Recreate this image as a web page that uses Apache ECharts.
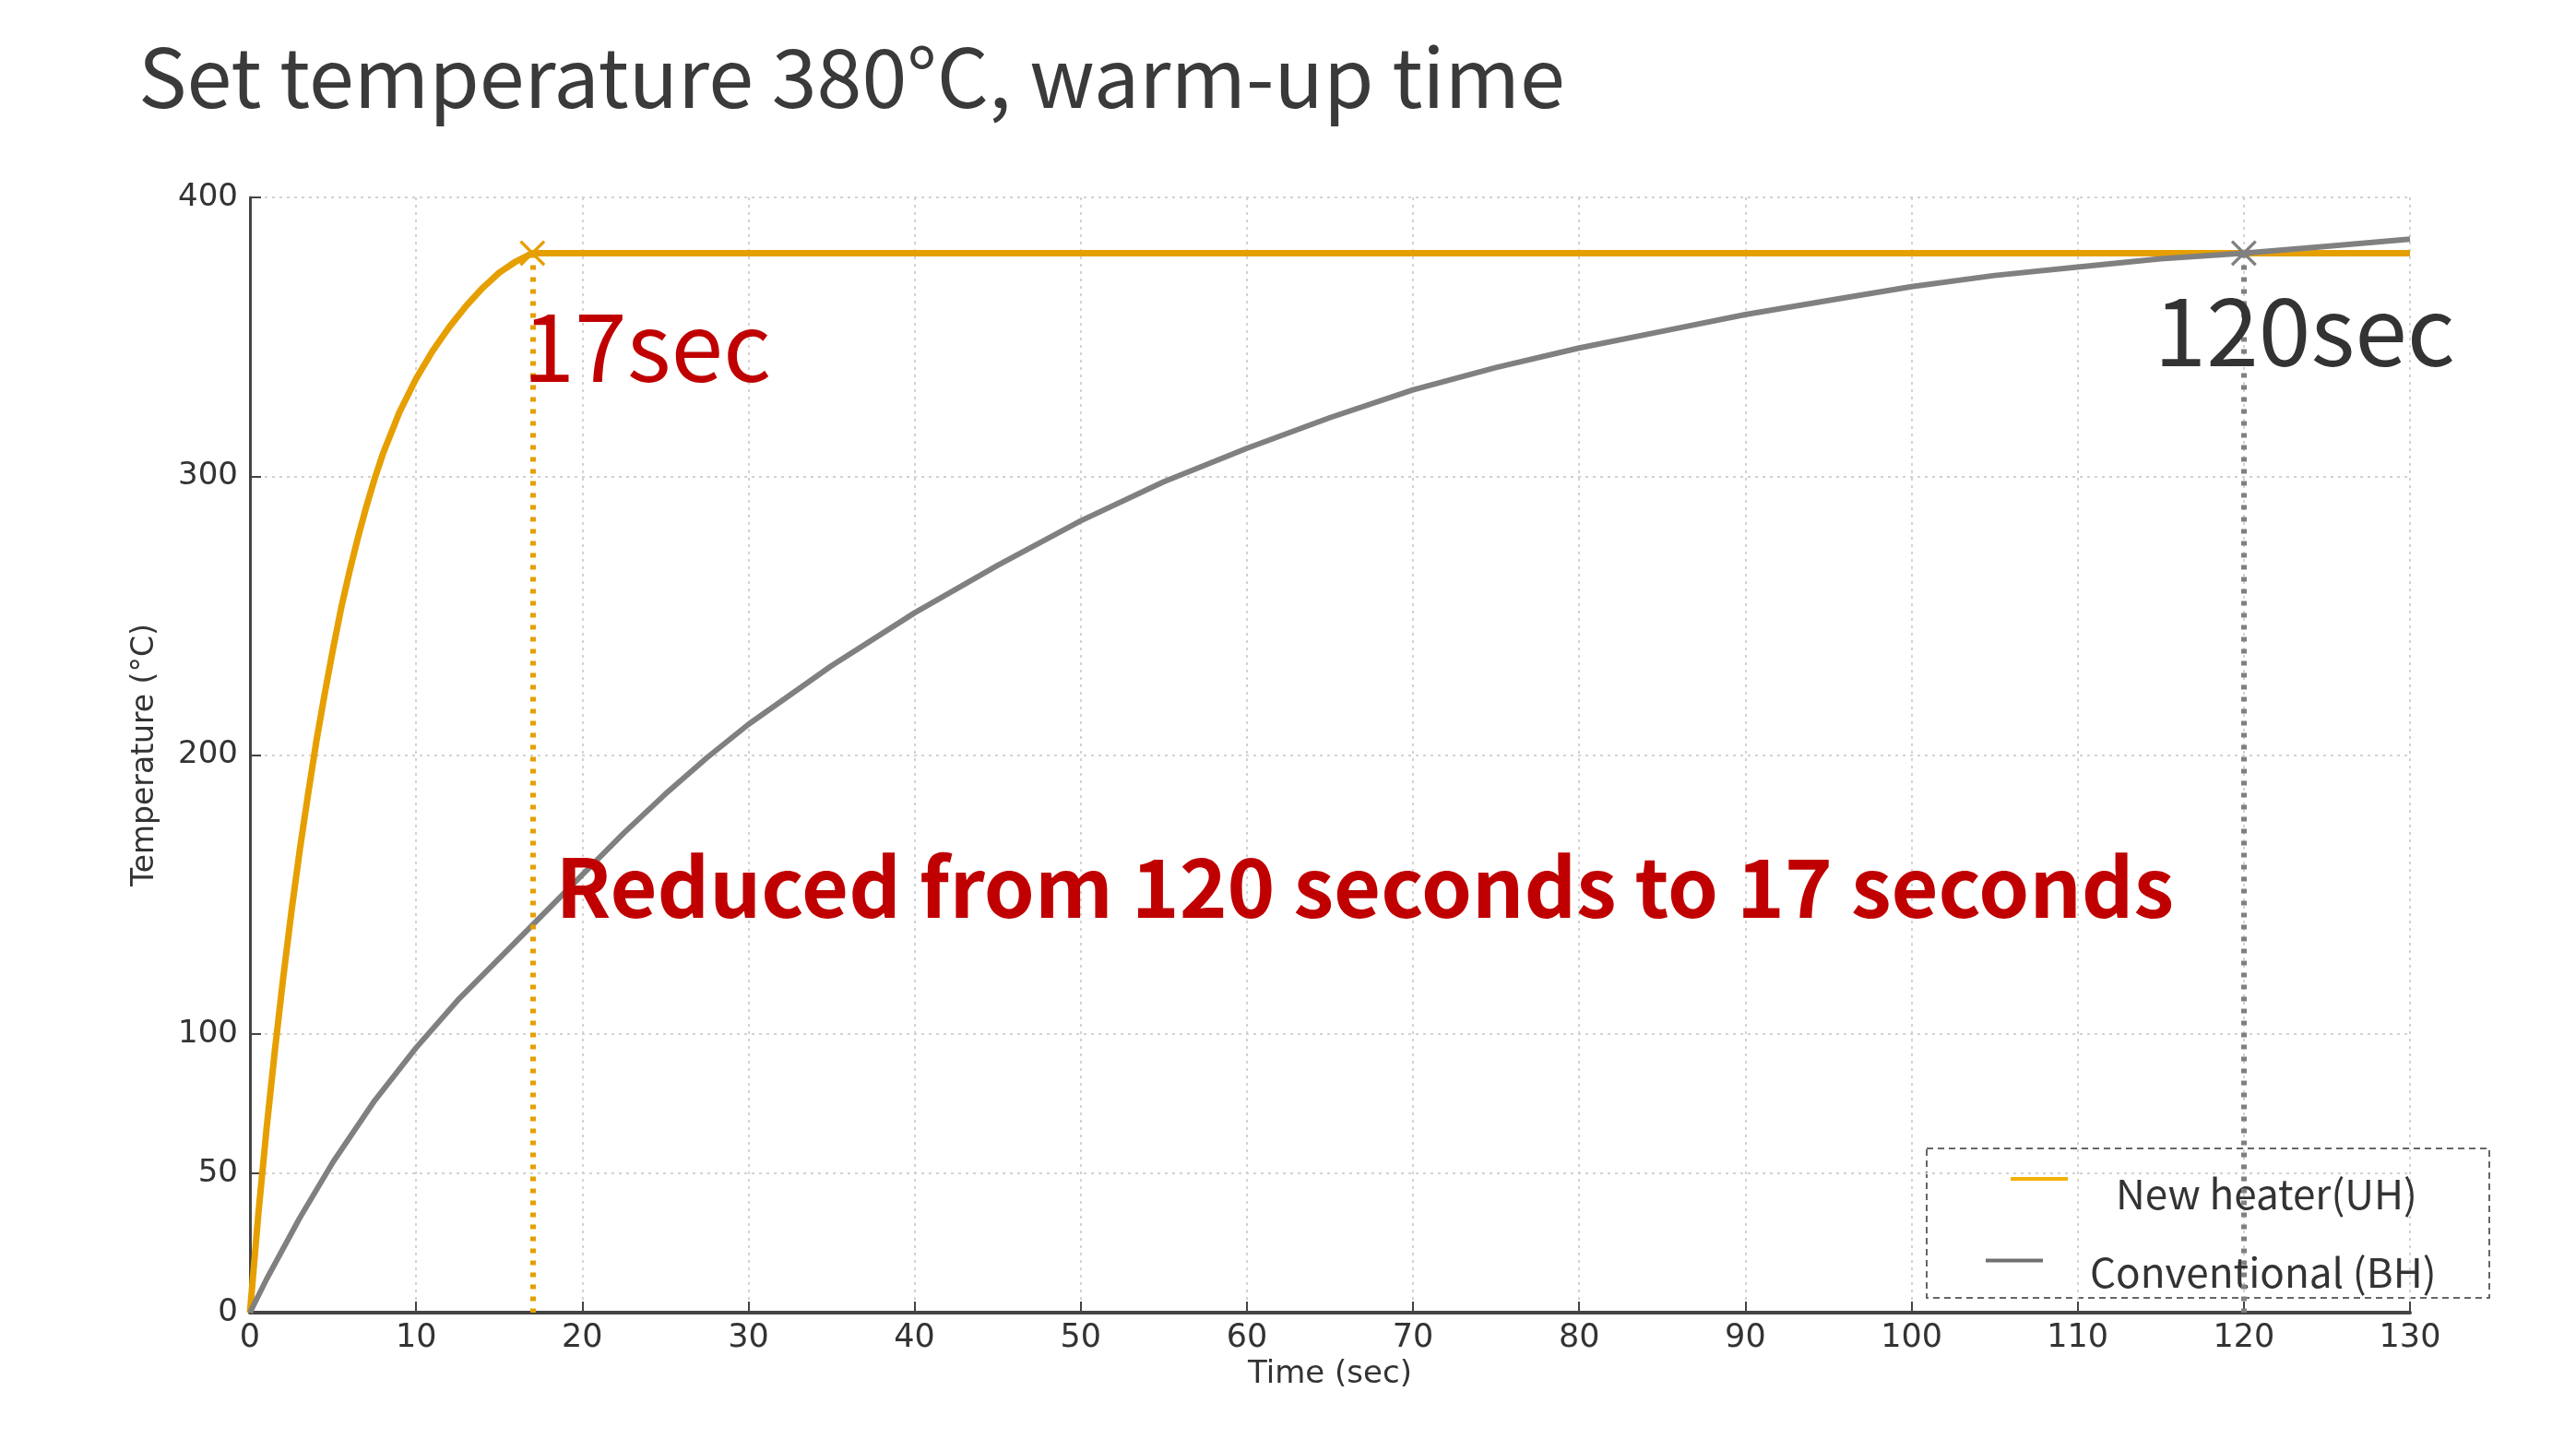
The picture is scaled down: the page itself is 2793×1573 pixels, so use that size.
<!DOCTYPE html>
<html>
<head>
<meta charset="utf-8">
<title>Warm-up time</title>
<script src="https://cdn.jsdelivr.net/npm/echarts@6/dist/echarts.min.js"></script>
<style>
  html, body { margin: 0; padding: 0; background: #fff; }
  #chart { width: 2793px; height: 1573px; }
</style>
</head>
<body>
<div id="chart"></div>
<script>
// values
var newName = 'New heater(UH)';
var oldName = 'Conventional (BH)';
var newTime = [0, 0.5, 1, 1.5, 2, 2.5, 3, 3.5, 4, 4.5, 5, 5.5, 6, 6.5, 7, 7.5, 8, 9, 10, 11, 12, 13, 14, 15, 16, 17, 130];
var newTemp = [0, 35, 66, 94, 120, 144, 166, 186, 205, 222, 238, 253, 266, 278, 289, 299, 308, 323, 335, 345, 353.5, 361, 367.5, 373, 377, 380, 380];
var oldTime = [0, 1, 2, 3, 4, 5, 7.5, 10, 12.5, 15, 17, 20, 22.5, 25, 27.5, 30, 35, 40, 45, 50, 55, 60, 65, 70, 75, 80, 85, 90, 95, 100, 105, 110, 115, 120, 125, 130];
var oldTemp = [0, 12, 23, 34, 44, 54, 76, 95, 112, 127, 139, 157, 172, 186, 199, 211, 232, 251, 268, 284, 298, 310, 321, 331, 339, 346, 352, 358, 363, 368, 372, 375, 378, 380, 382.5, 385];
var setTemp = 380;
var newReach = 17;
var oldReach = 120;
var yTicks = [0, 50, 100, 200, 300, 400];

var orange = '#E69F00';
var grey = '#808080';
var red = '#C00000';
var cjk = 'Noto Sans CJK JP';
var cross = 'path://M0,2 L2,0 L12,10 L22,0 L24,2 L14,12 L24,22 L22,24 L12,14 L2,24 L0,22 L10,12 Z';

function pairs(xs, ys) {
    return xs.map(function (x, i) { return [x, ys[i]]; });
}

// short bar at the top of a taller invisible box, so the bar sits above the text centre
function barIcon(h) {
    return 'path://M0,0 L62,0 L62,4 L0,4 Z M61.9,' + (h - 0.1) + ' L62,' + (h - 0.1) + ' L62,' + h + ' Z';
}

function note(text, coord, color, size, bold) {
    return {
        coord: coord,
        symbolSize: 0,
        label: {
            show: true,
            position: 'right',
            distance: 0,
            formatter: text,
            color: color,
            fontFamily: cjk,
            fontSize: size,
            fontWeight: bold ? 'bold' : 'normal'
        }
    };
}

var chart = echarts.init(document.getElementById('chart'));
chart.setOption({
    animation: false,
    backgroundColor: '#fff',
    title: {
        text: 'Set temperature 380°C, warm-up time',
        left: 150,
        top: 40,
        padding: 0,
        textStyle: { fontFamily: cjk, fontSize: 88, fontWeight: 'normal', color: '#3a3a3a' }
    },
    grid: { left: 271, right: 180, top: 214, bottom: 150, containLabel: false, outerBoundsMode: 'none' },
    legend: [{
        data: [{ name: newName, itemStyle: { color: '#F2B100' } }],
        left: 2180, top: 1272, padding: 0,
        icon: barIcon(36), itemWidth: 62, itemHeight: 36,
        selectedMode: false,
        textStyle: { fontFamily: cjk, fontSize: 44, color: '#333', padding: [0, 0, 0, 47] }
    }, {
        data: [{ name: oldName, itemStyle: { color: '#707070' } }],
        left: 2153, top: 1357, padding: 0,
        icon: barIcon(29), itemWidth: 62, itemHeight: 29,
        selectedMode: false,
        textStyle: { fontFamily: cjk, fontSize: 44, color: '#333', padding: [0, 0, 0, 46] }
    }],
    graphic: [{
        type: 'rect',
        shape: { x: 2089, y: 1245, width: 610, height: 162 },
        style: { fill: 'none', stroke: '#666', lineWidth: 2, lineDash: [7, 5] },
        silent: true
    }],
    xAxis: {
        type: 'value',
        min: 0, max: 130, interval: 10,
        name: 'Time (sec)', nameLocation: 'middle', nameGap: 50,
        nameTextStyle: { fontFamily: 'DejaVu Sans', fontSize: 34, color: '#333' },
        axisLine: { lineStyle: { color: '#444', width: 4 } },
        axisTick: { inside: true, length: 12, lineStyle: { color: '#444', width: 2 } },
        axisLabel: { fontFamily: 'DejaVu Sans', fontSize: 35, color: '#333', margin: 10 },
        splitLine: { show: true, lineStyle: { color: '#d2d2d2', width: 2, type: [3, 5] } }
    },
    yAxis: {
        type: 'value',
        min: 0, max: 400,
        name: 'Temperature (°C)', nameLocation: 'middle', nameGap: 97,
        nameTextStyle: { fontFamily: 'DejaVu Sans', fontSize: 33, color: '#333' },
        axisLine: { show: true, lineStyle: { color: '#444', width: 3 } },
        axisTick: { show: true, inside: true, length: 12, customValues: yTicks, lineStyle: { color: '#444', width: 2 } },
        axisLabel: { customValues: yTicks, fontFamily: 'DejaVu Sans', fontSize: 34, color: '#333', margin: 13 },
        splitLine: { show: true, lineStyle: { color: '#d2d2d2', width: 2, type: [3, 5] } }
    },
    series: [{
        name: newName,
        type: 'line',
        data: pairs(newTime, newTemp),
        showSymbol: false,
        color: orange,
        lineStyle: { color: orange, width: 7, join: 'round' },
        markLine: {
            silent: true,
            symbol: 'none',
            label: { show: false },
            lineStyle: { color: orange, width: 6, type: [5, 8] },
            data: [[{ coord: [newReach, setTemp] }, { coord: [newReach, 0] }]]
        },
        markPoint: {
            silent: true,
            data: [
                { coord: [newReach, setTemp], symbol: cross, symbolSize: 28, itemStyle: { color: orange }, label: { show: false } },
                note('17sec', [16.4, 346.6], red, 102, false),
                note('Reduced from 120 seconds to 17 seconds', [18.4, 152.6], red, 88, true)
            ]
        }
    }, {
        name: oldName,
        type: 'line',
        data: pairs(oldTime, oldTemp),
        showSymbol: false,
        color: grey,
        lineStyle: { color: grey, width: 6, join: 'round' },
        markLine: {
            silent: true,
            symbol: 'none',
            label: { show: false },
            lineStyle: { color: grey, width: 6, type: [5, 8] },
            data: [[{ coord: [oldReach, setTemp] }, { coord: [oldReach, 0] }]]
        },
        markPoint: {
            silent: true,
            data: [
                { coord: [oldReach, setTemp], symbol: cross, symbolSize: 28, itemStyle: { color: grey }, label: { show: false } },
                note('120sec', [114.6, 352.4], '#333', 102, false)
            ]
        }
    }]
});
</script>
</body>
</html>
